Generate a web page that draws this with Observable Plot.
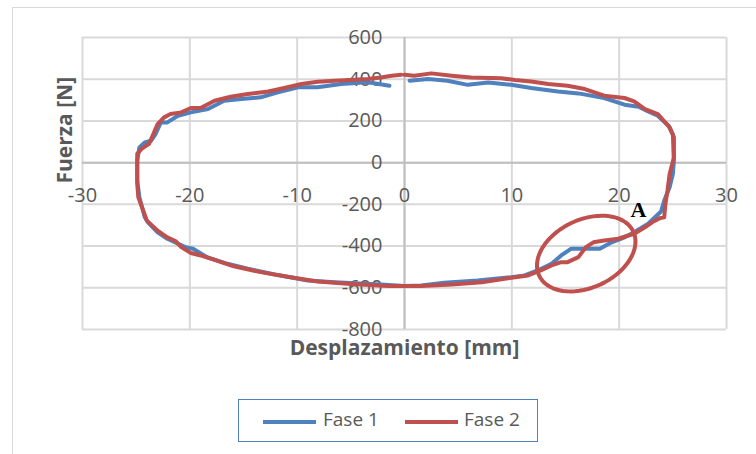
<!DOCTYPE html>
<html>
<head>
<meta charset="utf-8">
<script src="https://cdn.jsdelivr.net/npm/d3@7"></script>
<script src="https://cdn.jsdelivr.net/npm/@observablehq/plot@0.6"></script>
<style>
  html, body { margin: 0; padding: 0; background: white; overflow: hidden; }
  #wrap { position: relative; width: 756px; height: 454px; overflow: hidden; font-family: "Open Sans", sans-serif; }
  #frame { position: absolute; left: 12px; top: 7px; width: 900px; height: 600px; border: 1.5px solid #d9d9d9; pointer-events: none; }
  #legend { position: absolute; left: 238px; top: 399px; width: 300px; height: 43px; border: 1.5px solid #4f81bd; box-sizing: border-box; }
  .sw { position: absolute; top: 20px; width: 53px; height: 4px; }
  .lt { position: absolute; top: 6px; font-size: 19px; color: #595959; line-height: 26px; }
</style>
</head>
<body>
<div id="wrap">
  <div id="chart"></div>
  <div id="frame"></div>
  <div id="legend"></div>
</div>
<script>
// Data (Desplazamiento [mm], Fuerza [N])
const fase1 = [[0.47,393],[2.2,401],[4.0,393],[5.9,373],[7.8,384],[9.95,373],[11.8,358],[14.3,341],[16.2,332],[18.6,310],[20.5,278],[21.8,268],[22.7,246],[23.6,225],[24.6,177],[25.0,137],[25.1,10],[25.0,-54],[24.7,-118],[24.2,-182],[23.9,-234],[22.7,-293],[21.4,-334],[20.5,-358],[19.3,-382],[18.2,-413],[16.8,-413],[15.5,-413],[14.6,-445],[13.7,-485],[12.4,-517],[11.2,-541],[9.95,-549],[6.8,-565],[3.7,-576],[1.56,-589],[0,-592],[-2.2,-584],[-6.5,-573],[-9.0,-565],[-12.1,-536],[-14.6,-509],[-16.5,-485],[-18.4,-453],[-19.7,-413],[-20.4,-405],[-21.1,-389],[-22.1,-365],[-23.0,-334],[-23.9,-286],[-24.2,-262],[-24.7,-166],[-24.9,-86],[-24.9,10],[-24.7,73],[-24.2,97],[-23.6,105],[-23.2,137],[-22.7,193],[-22.1,193],[-21.1,225],[-19.9,241],[-18.3,257],[-16.8,297],[-15.2,305],[-13.4,313],[-11.8,337],[-9.9,361],[-8.1,361],[-5.9,377],[-3.4,385],[-1.4,369]];
const fase2 = [[0,421],[0.9,417],[2.5,428],[4.4,417],[6.2,408],[9.0,405],[10.3,396],[11.8,389],[13.4,377],[15.2,369],[16.8,353],[18.6,321],[20.5,310],[21.4,294],[22.4,257],[23.6,233],[24.7,169],[25.1,121],[25.1,25],[24.7,-54],[24.5,-134],[24.3,-200],[24.2,-262],[23.8,-266],[23.2,-282],[22.4,-310],[21.4,-341],[19.9,-365],[18.6,-373],[17.6,-382],[16.9,-405],[16.2,-453],[15.2,-477],[14.6,-477],[13.7,-493],[12.7,-517],[11.5,-541],[9.95,-552],[7.2,-573],[4.4,-584],[1.56,-592],[-1.55,-592],[-5.3,-581],[-8.1,-570],[-10.3,-552],[-13.4,-525],[-15.9,-497],[-17.7,-466],[-19.0,-445],[-19.9,-433],[-20.8,-405],[-21.3,-377],[-22.1,-358],[-23.0,-326],[-24.0,-278],[-24.8,-166],[-24.9,-102],[-24.9,42],[-24.5,66],[-23.8,90],[-23.4,137],[-23.0,185],[-22.4,217],[-21.8,233],[-20.8,241],[-19.9,262],[-19.0,262],[-17.7,297],[-16.2,316],[-14.6,329],[-12.7,341],[-11.2,358],[-9.6,377],[-8.1,388],[-6.5,393],[-3.4,401],[-2.2,408],[-1.2,417],[-0.3,421]];
const seriesNames = ["Fase 1", "Fase 2"];
const seriesColors = ["#4f81bd", "#c0504d"];
const xTicks = [-30, -20, -10, 0, 10, 20, 30];
const yTicks = [-800, -600, -400, -200, 0, 200, 400, 600];
const xTitle = "Desplazamiento [mm]";
const yTitle = "Fuerza [N]";
// Annotation "A": ellipse centre in data units, semi-axes in px, tilt in degrees
const annCenter = [16.93, -436];
const annAxes = [52, 34];
const annTilt = -25;
const annLabel = {x: 21.8, y: -227, text: "A"};

const W = 756, H = 454, mL = 82, mR = 30, mT = 37, mB = 125;
const xDom = [-30, 30], yDom = [-800, 600];
const kx = (W - mL - mR) / (xDom[1] - xDom[0]);
const ky = (H - mT - mB) / (yDom[1] - yDom[0]);

const rows = [];
[fase1, fase2].forEach((s, i) => s.forEach(([x, y]) => rows.push({serie: seriesNames[i], x, y})));

const th = annTilt * Math.PI / 180;
const ellipse = d3.range(0, 73).map(i => {
  const t = i / 72 * 2 * Math.PI;
  const dx = annAxes[0] * Math.cos(t) * Math.cos(th) - annAxes[1] * Math.sin(t) * Math.sin(th);
  const dy = annAxes[0] * Math.cos(t) * Math.sin(th) + annAxes[1] * Math.sin(t) * Math.cos(th);
  return {x: annCenter[0] + dx / kx, y: annCenter[1] - dy / ky};
});

const txt = "#595959";
const chart = Plot.plot({
  width: W, height: H, marginLeft: mL, marginRight: mR, marginTop: mT, marginBottom: mB,
  x: {domain: xDom, axis: null},
  y: {domain: yDom, axis: null},
  color: {domain: seriesNames, range: seriesColors},
  style: {fontFamily: "'Open Sans', sans-serif", background: "transparent", overflow: "visible"},
  marks: [
    Plot.ruleX(xTicks, {stroke: "#d9d9d9", strokeWidth: 2}),
    Plot.ruleY(yTicks, {stroke: "#d9d9d9", strokeWidth: 2}),
    Plot.ruleX([0], {stroke: "#bfbfbf", strokeWidth: 2}),
    Plot.ruleY([0], {stroke: "#bfbfbf", strokeWidth: 2}),
    Plot.text(xTicks, {x: d => d, y: 0, dy: 33, text: d => String(d), fontSize: 20, fill: txt}),
    Plot.text(yTicks, {x: 0, y: d => d, dx: -22, text: d => String(d), textAnchor: "end", fontSize: 20, fill: txt}),
    Plot.line(rows, {x: "x", y: "y", z: "serie", stroke: "serie", strokeWidth: 4, curve: "linear", strokeLinejoin: "round"}),
    Plot.line(ellipse, {x: "x", y: "y", stroke: seriesColors[1], strokeWidth: 4, curve: "linear"}),
    Plot.text([annLabel], {x: "x", y: "y", text: "text", fontFamily: "'Liberation Serif', serif", fontWeight: "bold", fontSize: 22, fill: "black"}),
    Plot.text([xTitle], {frameAnchor: "bottom", dy: 25, text: d => d, fontWeight: "bold", fontSize: 21, fill: txt}),
    Plot.text([yTitle], {frameAnchor: "left", dx: -17, rotate: -90, text: d => d, fontWeight: "bold", fontSize: 21, fill: txt, stroke: "white", strokeWidth: 7, paintOrder: "stroke"})
  ]
});
document.getElementById("chart").appendChild(chart);

const legend = document.getElementById("legend");
const legendPos = [[24, 84], [166, 225]];
seriesNames.forEach((n, i) => {
  const sw = document.createElement("div");
  sw.className = "sw"; sw.style.left = legendPos[i][0] + "px"; sw.style.background = seriesColors[i];
  const lt = document.createElement("div");
  lt.className = "lt"; lt.style.left = legendPos[i][1] + "px"; lt.textContent = n;
  legend.appendChild(sw); legend.appendChild(lt);
});
</script>
</body>
</html>
